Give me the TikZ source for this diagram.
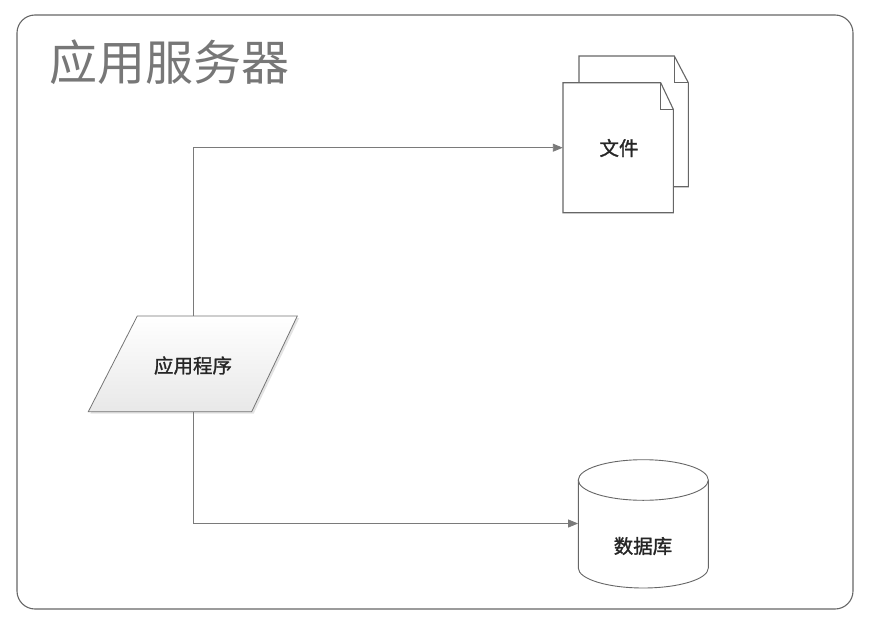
\documentclass[tikz,border=0pt]{standalone}
\usepackage{fontspec}
\newfontfamily\cjk{Noto Sans CJK SC}
\newfontfamily\cjkb[FakeBold=1.3]{Noto Sans CJK SC}
\usetikzlibrary{arrows.meta,shadows}
\definecolor{edge}{HTML}{666666}
\definecolor{conn}{HTML}{7A7A7A}
\definecolor{titlec}{HTML}{777777}
\tikzset{
  shapeline/.style={draw=edge, line width=1.1pt, line join=miter},
  conline/.style={draw=conn, line width=0.9pt, -{Triangle[length=10pt,width=8pt]}},
  lbl/.style={font=\cjkb\fontsize{19.5}{22}\selectfont, text=black!85, inner sep=0pt},
  anchorbox/.style={inner sep=0pt, draw=none}
}
\begin{document}
\begin{tikzpicture}[x=1pt,y=-1pt]
\useasboundingbox (0,0) rectangle (870,626);
% outer frame
\draw[draw=edge, line width=1.1pt, rounded corners=18pt] (17,15) rectangle (853,609);
\node[anchor=west, inner sep=0pt, text=titlec, font=\cjk\fontsize{48}{52}\selectfont] (title) at (49,62) {应用服务器};
% documents (back)
\draw[shapeline, fill=white] (579,56) -- (674.3,56) -- (688.3,82.7) -- (688.3,186.7) -- (579,186.7) -- cycle;
\draw[shapeline] (674.3,56) -- (674.3,82.7) -- (688.3,82.7);
% documents (front)
\draw[shapeline, fill=white] (563,82.7) -- (660.7,82.7) -- (673.3,109.3) -- (673.3,212.7) -- (563,212.7) -- cycle;
\draw[shapeline] (660.7,82.7) -- (660.7,109.3) -- (673.3,109.3);
\node[anchorbox, minimum width=110.3pt, minimum height=130pt] (doc) at (618.15,147.7) {};
\node[lbl] (doctext) at (619,148) {文件};
% parallelogram
\path[shapeline, line width=0.8pt, draw=edge!90, top color=white, bottom color=black!9, drop shadow={opacity=0.22, shadow xshift=2pt, shadow yshift=-2pt}]
  (137.3,316) -- (297.3,316) -- (251.7,411.7) -- (88.3,411.7) -- cycle;
\node[anchorbox, minimum width=209pt, minimum height=95.7pt] (app) at (192.8,363.85) {};
\node[lbl] (apptext) at (193,365.5) {应用程序};
% cylinder
\draw[shapeline, line width=0.9pt, fill=white] (578.3,480) -- (578.3,568) arc[start angle=180, end angle=360, x radius=65pt, y radius=20pt] -- (708.3,480);
\draw[shapeline, line width=0.9pt, fill=white] (643.3,480) ellipse[x radius=65pt, y radius=20.3pt];
\node[anchorbox, minimum width=130pt, minimum height=128pt] (db) at (643.3,524) {};
\node[lbl] (dbtext) at (643,546) {数据库};
% connectors
\coordinate (apptop) at (193,316);
\coordinate (appbot) at (193,411.7);
\draw[conline] (apptop) |- (doc.west);
\draw[conline] (appbot) |- (db.west |- 0,523.5);
\end{tikzpicture}
\end{document}
